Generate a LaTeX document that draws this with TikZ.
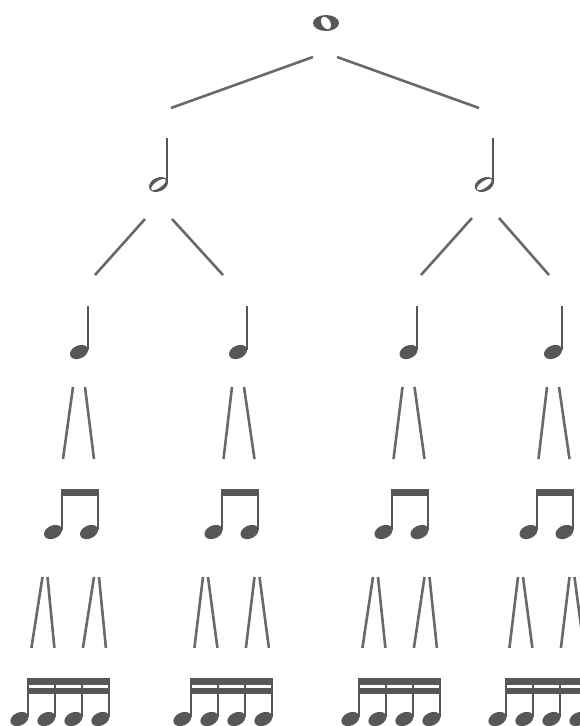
\documentclass[tikz,border=0pt]{standalone}
\usepackage{tikz}
\usetikzlibrary{calc}
\definecolor{ink}{HTML}{575757}
\definecolor{twig}{HTML}{696969}
\def\largeur{580}
\def\hauteur{726}
\newcommand{\tete}[1]{\fill[ink, rotate around={25:(#1)}] (#1) ellipse (9.5 and 6.5);}
\newcommand{\hampe}[2]{\draw[stemline] ($(#1)+(8.6,-2)$) -- ($(#1)+(8.6,-#2)$);}
\newcommand{\ronde}[1]{\fill[ink] (#1) ellipse (13 and 8);
	\fill[white, rotate around={30:(#1)}] (#1) ellipse (4.3 and 6.6);}
\newcommand{\blanche}[1]{\fill[ink, rotate around={25:(#1)}] (#1) ellipse (10 and 6.8);
	\fill[white, rotate around={35:(#1)}] (#1) ellipse (8.6 and 3.3);
	\hampe{#1}{46.5}}
\newcommand{\noire}[1]{\tete{#1}\hampe{#1}{46}}
\newcommand{\croches}[2]{\tete{#1}\tete{#2}\hampe{#1}{43}\hampe{#2}{43}
	\fill[ink] ($(#1)+(7.7,-43)$) rectangle ($(#2)+(9.5,-36)$);}
\newcommand{\doubles}[4]{\tete{#1}\tete{#2}\tete{#3}\tete{#4}
	\hampe{#1}{41}\hampe{#2}{41}\hampe{#3}{41}\hampe{#4}{41}
	\fill[ink] ($(#1)+(7.7,-41)$) rectangle ($(#4)+(9.5,-34)$);
	\fill[ink] ($(#1)+(7.7,-31)$) rectangle ($(#4)+(9.5,-25)$);}

\begin{document}
\begin{tikzpicture}[x=1pt, y=-1pt,
	twigline/.style={draw=twig, line width=2.6},
	stemline/.style={draw=ink, line width=1.8}]
	\useasboundingbox (0,0) rectangle (\largeur,\hauteur);
	\clip (0,0) rectangle (\largeur,\hauteur);
	%\draw[step=10, black!15] (0,0) grid (\largeur,\hauteur);
	\coordinate (w) at (326,23);
	\coordinate (h1) at (158.5,184.5);
	\coordinate (h2) at (484.3,184.5);
	\foreach \n/\x in {q1/79, q2/238, q3/408.5, q4/553}
		\coordinate (\n) at (\x,352);
	\foreach \n/\x in {e1/53, e2/89, e3/213.5, e4/249.5, e5/383.5, e6/419.5, e7/528.5, e8/564.5}
		\coordinate (\n) at (\x,532);
	\foreach \k/\x in {1/19.4, 5/182.4, 9/350.4, 13/497.4}
		\foreach \j in {0,...,3}{
			\pgfmathtruncatemacro\m{\k+\j}
			\coordinate (s\m) at (\x+27*\j,719);}

	\ronde{w}
	\blanche{h1}
	\blanche{h2}
	\foreach \n in {q1,q2,q3,q4} {\noire{\n}}
	\croches{e1}{e2}
	\croches{e3}{e4}
	\croches{e5}{e6}
	\croches{e7}{e8}
	\doubles{s1}{s2}{s3}{s4}
	\doubles{s5}{s6}{s7}{s8}
	\doubles{s9}{s10}{s11}{s12}
	\doubles{s13}{s14}{s15}{s16}

	\foreach \p/\u/\c/\v in {w/{-13,34}/h1/{12.5,-76.5}, w/{11,34}/h2/{-5.3,-76.5},
		h1/{-13.5,34.5}/q1/{16,-77}, h1/{13.5,34.5}/q2/{-15,-77},
		h2/{-12.3,33.5}/q3/{12.5,-77}, h2/{14.7,33.5}/q4/{-4,-77}}
		\draw[twigline] ($(\p)+(\u)$) -- ($(\c)+(\v)$);
	\foreach \i in {1,...,4}{
		\pgfmathtruncatemacro\a{2*\i-1}
		\pgfmathtruncatemacro\b{2*\i}
		\draw[twigline] ($(q\i)+(-6,35)$) -- ($(e\a)+(10,-73)$);
		\draw[twigline] ($(q\i)+(6,35)$) -- ($(e\b)+(5,-73)$);}
	\foreach \i in {1,...,4}{
		\pgfmathtruncatemacro\a{2*\i-1}
		\pgfmathtruncatemacro\b{2*\i}
		\pgfmathtruncatemacro\k{4*\i-3}
		\pgfmathtruncatemacro\l{4*\i-2}
		\pgfmathtruncatemacro\m{4*\i-1}
		\pgfmathtruncatemacro\o{4*\i}
		\draw[twigline] ($(e\a)+(-10.5,45)$) -- ($(s\k)+(12,-71)$);
		\draw[twigline] ($(e\a)+(-5.5,45)$) -- ($(s\l)+(8,-71)$);
		\draw[twigline] ($(e\b)+(5,45)$) -- ($(s\m)+(9.5,-71)$);
		\draw[twigline] ($(e\b)+(10,45)$) -- ($(s\o)+(5.5,-71)$);}
\end{tikzpicture}
\end{document}
